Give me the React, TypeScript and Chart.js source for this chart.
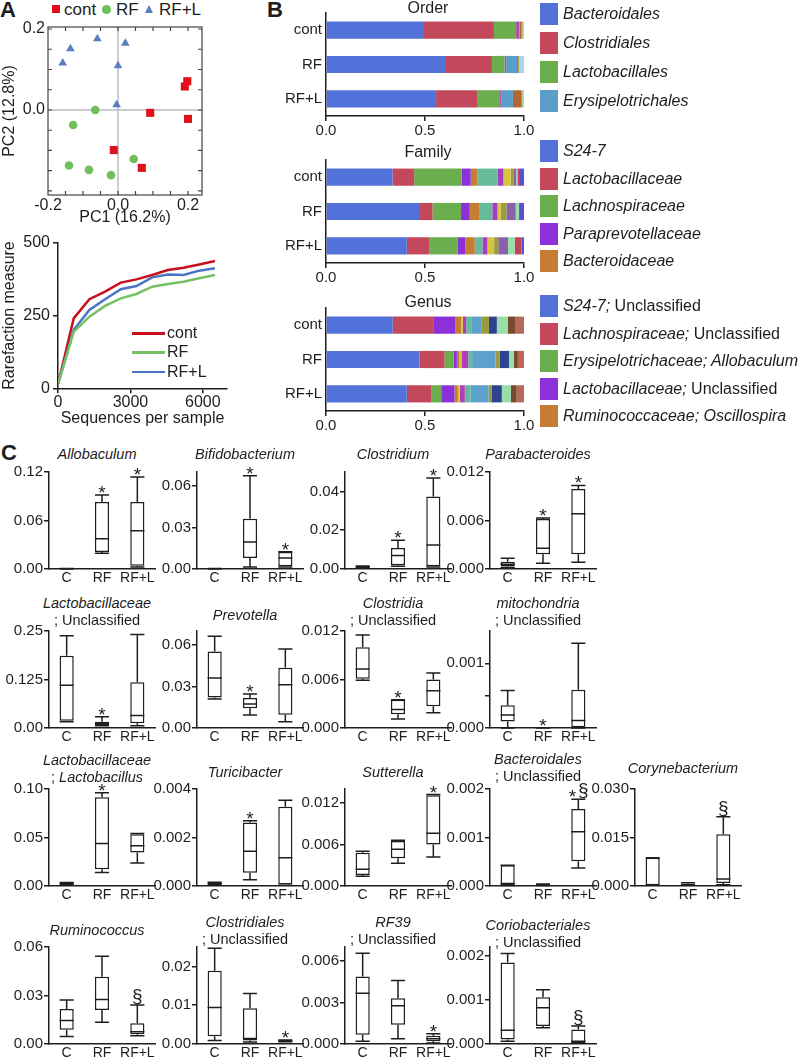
import React, { useEffect, useRef } from 'react';
import { Chart, registerables } from 'chart.js';

Chart.register(...registerables);

const FONT = '"Liberation Sans", Arial, Helvetica, sans-serif';
const INK = '#1e1e1e';
Chart.defaults.font.family = FONT;
Chart.defaults.color = INK;

// ---------------- Panel A: PCoA scatter ----------------
const CONT_PC1 = [0.198, 0.191, 0.2, 0.092, -0.012, 0.068];
const CONT_PC2 = [0.071, 0.058, -0.022, -0.007, -0.099, -0.143];
const RF_PC1 = [-0.065, -0.128, -0.14, -0.083, -0.02, 0.045];
const RF_PC2 = [0.0, -0.037, -0.137, -0.148, -0.161, -0.121];
const RFL_PC1 = [-0.158, -0.136, -0.059, 0.021, 0.0, -0.004];
const RFL_PC2 = [0.116, 0.151, 0.176, 0.165, 0.109, 0.013];
const PC1_TICKS = [-0.2, 0, 0.2];
const PC2_TICKS = [0, 0.2];

// ---------------- Panel A: rarefaction ----------------
const RARE_SEQ = [10, 650, 1300, 1950, 2600, 3250, 3900, 4550, 5200, 5850, 6500];
const RARE_CONT = [17, 240, 306, 332, 363, 374, 389, 406, 414, 425, 437];
const RARE_RF = [17, 194, 246, 283, 309, 324, 349, 358, 366, 378, 389];
const RARE_RFL = [17, 200, 269, 306, 340, 351, 381, 391, 389, 404, 412];
const RARE_X_TICKS = [0, 3000, 6000];
const RARE_Y_TICKS = [0, 250, 500];

// ---------------- Panel B: relative abundance ----------------
const B_GROUPS = ['cont', 'RF', 'RF+L'];
const B_TICKS = [0, 0.5, 1];

const ORDER_TAXA = ['Bacteroidales', 'Clostridiales', 'Lactobacillales', 'Burkholderiales', 'Erysipelotrichales', 'RF39', 'Coriobacteriales', 'Other'];
const ORDER_COLORS = ['#5271D9', '#C3485B', '#6AAE4D', '#B14BAA', '#5C9DC9', '#B0662F', '#9C9B3B', '#A9D6E8'];
const ORDER_CONT = [0.49, 0.358, 0.112, 0.016, 0.003, 0.008, 0.006, 0.007];
const ORDER_RF = [0.606, 0.232, 0.064, 0.008, 0.055, 0.006, 0.004, 0.025];
const ORDER_RFL = [0.556, 0.21, 0.113, 0.006, 0.059, 0.044, 0.004, 0.008];

const FAMILY_TAXA = ['S24-7', 'Lactobacillaceae', 'Lachnospiraceae', 'Paraprevotellaceae', 'Bacteroidaceae', 'Ruminococcaceae', 'Prevotellaceae', 'Erysipelotrichaceae', 'Coriobacteriaceae', 'Rikenellaceae', 'Clostridiaceae', 'Peptococcaceae', 'Other'];
const FAMILY_COLORS = ['#5271D9', '#C3485B', '#6AAE4D', '#8C30D9', '#C47D33', '#67BB9B', '#A53FC2', '#D5C43F', '#9C9B3B', '#8A62AA', '#97DEA8', '#C04456', '#5B4FD3'];
const FAMILY_CONT = [0.336, 0.109, 0.241, 0.045, 0.034, 0.101, 0.03, 0.037, 0.013, 0.015, 0.006, 0.008, 0.025];
const FAMILY_RF = [0.47, 0.068, 0.144, 0.044, 0.047, 0.067, 0.026, 0.016, 0.029, 0.047, 0.017, 0.0, 0.025];
const FAMILY_RFL = [0.408, 0.113, 0.143, 0.039, 0.048, 0.039, 0.025, 0.034, 0.021, 0.049, 0.034, 0.035, 0.012];

const GENUS_TAXA = ['S24-7; Unclassified', 'Lachnospiraceae; Unclassified', 'Erysipelotrichaceae; Allobaculum', 'Lactobacillaceae; Unclassified', 'Ruminococcaceae; Oscillospira', 'g6', 'g7', 'g8', 'g9', 'g10', 'g11', 'g12', 'g13', 'other'];
const GENUS_COLORS = ['#5271D9', '#C3485B', '#6AAE4D', '#8C30D9', '#C47D33', '#D5C43F', '#B23DB8', '#67BB9B', '#5CA0CC', '#9C9B3B', '#2D4390', '#97DEA8', '#7A4A2E', '#B86A5A'];
const GENUS_CONT = [0.337, 0.208, 0.0, 0.109, 0.029, 0.008, 0.017, 0.029, 0.047, 0.039, 0.04, 0.056, 0.039, 0.042];
const GENUS_RF = [0.472, 0.127, 0.045, 0.017, 0.013, 0.01, 0.034, 0.02, 0.118, 0.022, 0.046, 0.025, 0.02, 0.031];
const GENUS_RFL = [0.408, 0.125, 0.049, 0.067, 0.017, 0.01, 0.025, 0.03, 0.09, 0.017, 0.05, 0.045, 0.03, 0.037];

type Seg = [string, boolean];

const ORDER_LEGEND: Seg[][] = [
  [['Bacteroidales', true]], [['Clostridiales', true]], [['Lactobacillales', true]], [['Erysipelotrichales', true]],
];
const ORDER_LEGEND_IDX = [0, 1, 2, 4];
const FAMILY_LEGEND: Seg[][] = [
  [['S24-7', true]], [['Lactobacillaceae', true]], [['Lachnospiraceae', true]], [['Paraprevotellaceae', true]], [['Bacteroidaceae', true]],
];
const FAMILY_LEGEND_IDX = [0, 1, 2, 3, 4];
const GENUS_LEGEND: Seg[][] = [
  [['S24-7;', true], [' Unclassified', false]],
  [['Lachnospiraceae;', true], [' Unclassified', false]],
  [['Erysipelotrichaceae; Allobaculum', true]],
  [['Lactobacillaceae;', true], [' Unclassified', false]],
  [['Ruminococcaceae; Oscillospira', true]],
];
const GENUS_LEGEND_IDX = [0, 1, 2, 3, 4];

// ---------------- Panel C: box plots, [min, Q1, median, Q3, max] ----------------
const GROUPS = ['C', 'RF', 'RF+L'];
const ALLOBACULUM = [[0, 0, 0, 0.0005, 0.0005], [0.0195, 0.021, 0.0375, 0.083, 0.0915], [0.0025, 0.004, 0.0474, 0.083, 0.1138]];
const BIFIDOBACTERIUM = [[0, 0, 0, 0.0003, 0.0003], [0.0015, 0.008, 0.0194, 0.0363, 0.0673], [0.0015, 0.002, 0.008, 0.0123, 0.0125]];
const CLOSTRIDIUM = [[0.0005, 0.0008, 0.001, 0.0015, 0.0016], [0.0014, 0.0019, 0.0069, 0.0108, 0.0148], [0.001, 0.0014, 0.0124, 0.0374, 0.0469]];
const PARABACTEROIDES = [[0.0002, 0.0003, 0.00058, 0.0009, 0.00132], [0.0007, 0.00182, 0.00257, 0.0062, 0.0063], [0.00083, 0.00182, 0.00683, 0.0099, 0.01034]];
const LACTOBACILLACEAE_UNCL = [[0.016, 0.019, 0.11, 0.186, 0.238], [0.006, 0.008, 0.012, 0.016, 0.029], [0.006, 0.012, 0.032, 0.118, 0.241]];
const PREVOTELLA = [[0.021, 0.022, 0.0361, 0.0552, 0.0663], [0.0094, 0.0142, 0.0173, 0.0217, 0.0246], [0.0046, 0.0096, 0.0313, 0.0434, 0.0571]];
const CLOSTRIDIA_UNCL = [[0.0059, 0.0061, 0.0073, 0.01, 0.0115], [0.0011, 0.0017, 0.0023, 0.0035, 0.0035], [0.0019, 0.0027, 0.0046, 0.006, 0.0068]];
const MITOCHONDRIA_UNCL = [[0, 0.0001, 0.0002, 0.00035, 0.00058], [0, 0, 0, 0, 0], [0, 0, 0.000115, 0.00059, 0.00131]];
const LACTOBACILLUS = [[0.001, 0.0015, 0.002, 0.0035, 0.0035], [0.0138, 0.0172, 0.0438, 0.0914, 0.0962], [0.0238, 0.0345, 0.0414, 0.0534, 0.0541]];
const TURICIBACTER = [[0.00005, 0.00008, 0.0001, 0.00015, 0.00015], [0.00026, 0.00055, 0.00143, 0.00262, 0.00269], [0.00003, 0.00006, 0.00117, 0.00327, 0.00354]];
const SUTTERELLA = [[0.0014, 0.0016, 0.0024, 0.0048, 0.005], [0.0033, 0.004, 0.0053, 0.0065, 0.0066], [0.0042, 0.006, 0.0076, 0.0131, 0.0132]];
const BACTEROIDALES_UNCL = [[0.00001, 0.00001, 0.00005, 0.00043, 0.00043], [0.00001, 0.00002, 0.00003, 0.00004, 0.00004], [0.00037, 0.00051, 0.00112, 0.00159, 0.00179]];
const CORYNEBACTERIUM = [[0.0002, 0.0002, 0.0002, 0.0087, 0.0087], [0.0002, 0.0002, 0.0004, 0.0007, 0.001], [0.0004, 0.0009, 0.0022, 0.016, 0.0214]];
const RUMINOCOCCUS = [[0.0047, 0.0088, 0.0145, 0.0217, 0.0272], [0.0135, 0.0211, 0.0276, 0.0416, 0.0543], [0.0051, 0.0061, 0.0076, 0.0129, 0.0242]];
const CLOSTRIDIALES_UNCL = [[0.0009, 0.002, 0.0094, 0.0189, 0.0247], [0.0005, 0.0009, 0.0014, 0.0092, 0.013], [0.0006, 0.0007, 0.0008, 0.001, 0.001]];
const RF39_UNCL = [[0.00019, 0.00067, 0.00367, 0.00487, 0.00655], [0.00038, 0.00139, 0.00276, 0.00331, 0.00458], [0.00007, 0.00019, 0.00038, 0.0006, 0.00074]];
const CORIOBACTERIALES_UNCL = [[0.00006, 0.0001, 0.00031, 0.00185, 0.00205], [0.00037, 0.00041, 0.00082, 0.00106, 0.00123], [0.00002, 0.00002, 0.00006, 0.00033, 0.00041]];

type BoxPanel = {
  stats: number[][]; max: number; ticks: number[]; labels: string[]; marks: string[];
  title: Seg[][]; col: number; row: number; ty: number;
};

const U: Seg = ['; Unclassified', false];
const BOX_PANELS: BoxPanel[] = [
  { stats: ALLOBACULUM, max: 0.12, ticks: [0, 0.06, 0.12], labels: ['0.00', '0.06', '0.12'], marks: ['', '*', '*'], title: [[['Allobaculum', true]]], col: 0, row: 0, ty: 454 },
  { stats: BIFIDOBACTERIUM, max: 0.07, ticks: [0, 0.03, 0.06], labels: ['0.00', '0.03', '0.06'], marks: ['', '*', '*'], title: [[['Bifidobacterium', true]]], col: 1, row: 0, ty: 454 },
  { stats: CLOSTRIDIUM, max: 0.05, ticks: [0, 0.02, 0.04], labels: ['0.00', '0.02', '0.04'], marks: ['', '*', '*'], title: [[['Clostridium', true]]], col: 2, row: 0, ty: 454 },
  { stats: PARABACTEROIDES, max: 0.012, ticks: [0, 0.006, 0.012], labels: ['0.000', '0.006', '0.012'], marks: ['', '*', '*'], title: [[['Parabacteroides', true]]], col: 3, row: 0, ty: 454 },
  { stats: LACTOBACILLACEAE_UNCL, max: 0.25, ticks: [0, 0.125, 0.25], labels: ['0.00', '0.125', '0.25'], marks: ['', '*', ''], title: [[['Lactobacillaceae', true]], [U]], col: 0, row: 1, ty: 603 },
  { stats: PREVOTELLA, max: 0.07, ticks: [0, 0.03, 0.06], labels: ['0.00', '0.03', '0.06'], marks: ['', '*', ''], title: [[['Prevotella', true]]], col: 1, row: 1, ty: 615 },
  { stats: CLOSTRIDIA_UNCL, max: 0.012, ticks: [0, 0.006, 0.012], labels: ['0.000', '0.006', '0.012'], marks: ['', '*', ''], title: [[['Clostridia', true]], [U]], col: 2, row: 1, ty: 603 },
  { stats: MITOCHONDRIA_UNCL, max: 0.0015, ticks: [0, 0.0005, 0.001], labels: ['0.000', '', '0.001'], marks: ['', '*', ''], title: [[['mitochondria', true]], [U]], col: 3, row: 1, ty: 603 },
  { stats: LACTOBACILLUS, max: 0.1, ticks: [0, 0.05, 0.1], labels: ['0.00', '0.05', '0.10'], marks: ['', '*', ''], title: [[['Lactobacillaceae', true]], [['; ', false], ['Lactobacillus', true]]], col: 0, row: 2, ty: 760 },
  { stats: TURICIBACTER, max: 0.004, ticks: [0, 0.002, 0.004], labels: ['0.000', '0.002', '0.004'], marks: ['', '*', ''], title: [[['Turicibacter', true]]], col: 1, row: 2, ty: 772 },
  { stats: SUTTERELLA, max: 0.014, ticks: [0, 0.006, 0.012], labels: ['0.000', '0.006', '0.012'], marks: ['', '', '*'], title: [[['Sutterella', true]]], col: 2, row: 2, ty: 772 },
  { stats: BACTEROIDALES_UNCL, max: 0.002, ticks: [0, 0.001, 0.002], labels: ['0.000', '0.001', '0.002'], marks: ['', '', '*§'], title: [[['Bacteroidales', true]], [U]], col: 3, row: 2, ty: 759 },
  { stats: CORYNEBACTERIUM, max: 0.03, ticks: [0, 0.015, 0.03], labels: ['0.000', '0.015', '0.030'], marks: ['', '', '§'], title: [[['Corynebacterium', true]]], col: 4, row: 2, ty: 768 },
  { stats: RUMINOCOCCUS, max: 0.06, ticks: [0, 0.03, 0.06], labels: ['0.00', '0.03', '0.06'], marks: ['', '', '§'], title: [[['Ruminococcus', true]]], col: 0, row: 3, ty: 930 },
  { stats: CLOSTRIDIALES_UNCL, max: 0.025, ticks: [0, 0.01, 0.02], labels: ['0.00', '0.01', '0.02'], marks: ['', '', '*'], title: [[['Clostridiales', true]], [U]], col: 1, row: 3, ty: 922 },
  { stats: RF39_UNCL, max: 0.007, ticks: [0, 0.003, 0.006], labels: ['0.000', '0.003', '0.006'], marks: ['', '', '*'], title: [[['RF39', true]], [U]], col: 2, row: 3, ty: 922 },
  { stats: CORIOBACTERIALES_UNCL, max: 0.0022, ticks: [0, 0.001, 0.002], labels: ['0.000', '0.001', '0.002'], marks: ['', '', '§'], title: [[['Coriobacteriales', true]], [U]], col: 3, row: 3, ty: 925 },
];

// ---------------- layout ----------------
const COL_X = [49, 197, 345, 490, 635];
const ROW_TOP = [472, 631, 789, 947];
const BOX_YW = 46;
const BOX_PT = 10;
const BOX_PW = 106;
const BOX_PH = 97;
const BOX_XH = 24;
const BOX_PR = 6;

function ChartBox({ left, top, width, height, build }: { left: number; top: number; width: number; height: number; build: () => any }) {
  const ref = useRef<HTMLCanvasElement>(null);
  useEffect(() => {
    if (!ref.current) return;
    const chart = new Chart(ref.current, build());
    return () => chart.destroy();
  }, []);
  return <canvas ref={ref} width={width} height={height} style={{ position: 'absolute', left, top, width, height }} />;
}

function Txt({ x, y, size = 14.5, italic = false, bold = false, align = 'center', children }: any) {
  const tx = align === 'center' ? '-50%' : align === 'right' ? '-100%' : '0';
  return (
    <div style={{ position: 'absolute', left: x, top: y, transform: `translate(${tx},-50%)`, fontSize: size, fontStyle: italic ? 'italic' : 'normal', fontWeight: bold ? 700 : 400, lineHeight: 1, whiteSpace: 'nowrap' }}>
      {children}
    </div>
  );
}

function Segs({ segs }: { segs: Seg[] }) {
  return <>{segs.map((s, i) => <span key={i} style={{ fontStyle: s[1] ? 'italic' : 'normal' }}>{s[0]}</span>)}</>;
}

function fixedTicks(vals: number[]) {
  return (s: any) => { s.ticks = vals.map((v) => ({ value: v })); };
}

function boxConfig(p: BoxPanel) {
  const whisker = {
    id: 'whisker',
    afterDatasetsDraw(chart: any) {
      const { ctx } = chart;
      const y = chart.scales.y;
      const meta = chart.getDatasetMeta(0);
      ctx.save();
      ctx.strokeStyle = INK;
      ctx.fillStyle = INK;
      ctx.lineWidth = 1.5;
      p.stats.forEach((s, i) => {
        const el: any = meta.data[i];
        const cx = el.x;
        const hw = el.width / 2;
        const [mn, q1, md, q3, mx] = s.map((v) => y.getPixelForValue(v));
        ctx.beginPath();
        ctx.moveTo(cx, q3); ctx.lineTo(cx, mx);
        ctx.moveTo(cx, q1); ctx.lineTo(cx, mn);
        ctx.moveTo(cx - hw, mx); ctx.lineTo(cx + hw, mx);
        ctx.moveTo(cx - hw, mn); ctx.lineTo(cx + hw, mn);
        ctx.moveTo(cx - hw, md); ctx.lineTo(cx + hw, md);
        ctx.stroke();
        const m = p.marks[i];
        if (m) {
          ctx.font = `19px ${FONT}`;
          ctx.textAlign = 'center';
          ctx.textBaseline = 'alphabetic';
          if (m === '*') ctx.fillText('*', cx, mx + 4);
          else if (m === '§') ctx.fillText('§', cx, mx - 3);
          else { ctx.fillText('*', cx - 6, mx + 4); ctx.fillText('§', cx + 5, mx - 3); }
        }
      });
      ctx.restore();
    },
  };
  return {
    type: 'bar',
    data: {
      labels: GROUPS,
      datasets: [{
        data: p.stats.map((s) => [s[1], s[3]]),
        backgroundColor: '#ffffff', borderColor: INK, borderWidth: 1.5, borderSkipped: false,
        barPercentage: 0.4, categoryPercentage: 1,
      }],
    },
    options: {
      responsive: false, animation: false, events: [],
      layout: { autoPadding: false, padding: { top: BOX_PT, right: BOX_PR, left: 0, bottom: 0 } },
      plugins: { legend: { display: false }, tooltip: { enabled: false } },
      scales: {
        x: {
          grid: { display: false, drawTicks: false },
          border: { display: true, color: INK, width: 1.5 },
          ticks: { font: { size: 14 }, color: INK, padding: 1, maxRotation: 0, autoSkip: false },
          afterFit: (s: any) => { s.height = BOX_XH; },
        },
        y: {
          min: 0, max: p.max,
          grid: { drawOnChartArea: false, drawTicks: true, tickLength: 5, color: INK, lineWidth: 1.5 },
          border: { display: true, color: INK, width: 1.5 },
          ticks: { font: { size: 15 }, color: INK, padding: 1, callback: (_v: any, i: number) => p.labels[i] },
          afterBuildTicks: fixedTicks(p.ticks),
          afterFit: (s: any) => { s.width = BOX_YW; },
        },
      },
    },
    plugins: [whisker],
  };
}

function stackConfig(taxa: string[], colors: string[], rows: number[][]) {
  return {
    type: 'bar',
    data: {
      labels: B_GROUPS,
      datasets: taxa.map((t, i) => ({
        label: t, data: rows.map((r) => r[i]), backgroundColor: colors[i], borderWidth: 0,
        barPercentage: 0.5, categoryPercentage: 1,
      })),
    },
    options: {
      indexAxis: 'y', responsive: false, animation: false, events: [],
      layout: { autoPadding: false, padding: { top: 6, right: 18, left: 0, bottom: 0 } },
      plugins: { legend: { display: false }, tooltip: { enabled: false } },
      scales: {
        x: {
          stacked: true, min: 0, max: 1,
          grid: { drawOnChartArea: false, tickLength: 5, color: INK, lineWidth: 1.5 },
          border: { display: true, color: INK, width: 1.5 },
          ticks: { font: { size: 15 }, color: INK, padding: 1, callback: (v: any) => Number(v).toFixed(1) },
          afterBuildTicks: fixedTicks(B_TICKS),
          afterFit: (s: any) => { s.height = 24; },
        },
        y: {
          stacked: true,
          grid: { display: false, drawTicks: false },
          border: { display: true, color: INK, width: 1.5 },
          ticks: { font: { size: 15 }, color: INK, padding: 4 },
          afterFit: (s: any) => { s.width = 56; },
        },
      },
    },
  };
}

function scatterConfig() {
  const frame = {
    id: 'frame',
    beforeDatasetsDraw(chart: any) {
      const { ctx, chartArea: a } = chart;
      const x = chart.scales.x;
      const y = chart.scales.y;
      ctx.save();
      ctx.strokeStyle = '#bdbdbd';
      ctx.lineWidth = 1.5;
      const x0 = x.getPixelForValue(0);
      const y0 = y.getPixelForValue(0);
      ctx.beginPath();
      ctx.moveTo(x0, a.top); ctx.lineTo(x0, a.bottom);
      ctx.moveTo(a.left, y0); ctx.lineTo(a.right, y0);
      ctx.stroke();
      ctx.strokeStyle = '#444';
      ctx.lineWidth = 1.2;
      ctx.strokeRect(a.left, a.top, a.width, a.height);
      ctx.beginPath();
      for (let k = -4; k <= 5; k++) {
        const px = x.getPixelForValue(k * 0.05);
        if (px > a.left + 1 && px < a.right - 1) {
          ctx.moveTo(px, a.top); ctx.lineTo(px, a.top + 4);
          ctx.moveTo(px, a.bottom); ctx.lineTo(px, a.bottom - 4);
        }
        const py = y.getPixelForValue(k * 0.05);
        if (py > a.top + 1 && py < a.bottom - 1) {
          ctx.moveTo(a.left, py); ctx.lineTo(a.left + 4, py);
          ctx.moveTo(a.right, py); ctx.lineTo(a.right - 4, py);
        }
      }
      ctx.stroke();
      ctx.restore();
    },
  };
  const pts = (xs: number[], ys: number[]) => xs.map((v, i) => ({ x: v, y: ys[i] }));
  return {
    type: 'scatter',
    data: {
      datasets: [
        { label: 'cont', data: pts(CONT_PC1, CONT_PC2), pointStyle: 'rect', pointRadius: 5.7, backgroundColor: '#e0101a', borderWidth: 0 },
        { label: 'RF', data: pts(RF_PC1, RF_PC2), pointStyle: 'circle', pointRadius: 4.3, backgroundColor: '#6fbf5c', borderWidth: 0 },
        { label: 'RF+L', data: pts(RFL_PC1, RFL_PC2), pointStyle: 'triangle', pointRadius: 5, backgroundColor: '#5a7ec0', borderWidth: 0 },
      ],
    },
    options: {
      responsive: false, animation: false, events: [],
      layout: { autoPadding: false, padding: { top: 27, right: 13, left: 0, bottom: 0 } },
      plugins: { legend: { display: false }, tooltip: { enabled: false } },
      scales: {
        x: {
          type: 'linear', min: -0.2, max: 0.24,
          grid: { display: false, drawTicks: false }, border: { display: false },
          ticks: { font: { size: 16 }, color: INK, padding: 1, callback: (v: any) => Number(v).toFixed(1) },
          afterBuildTicks: fixedTicks(PC1_TICKS),
          title: { display: true, text: 'PC1 (16.2%)', font: { size: 16 }, color: INK, padding: { top: 0, bottom: 1 } },
          afterFit: (s: any) => { s.height = 33; },
        },
        y: {
          type: 'linear', min: -0.21, max: 0.205,
          grid: { display: false, drawTicks: false }, border: { display: false },
          ticks: { font: { size: 16 }, color: INK, padding: 3, callback: (v: any) => Number(v).toFixed(1) },
          afterBuildTicks: fixedTicks(PC2_TICKS),
          title: { display: true, text: 'PC2 (12.8%)', font: { size: 16 }, color: INK, padding: 0 },
          afterFit: (s: any) => { s.width = 48; },
        },
      },
    },
    plugins: [frame],
  };
}

function rareConfig() {
  const line = (ys: number[], color: string, label: string) => ({
    label, data: RARE_SEQ.map((x, i) => ({ x, y: ys[i] })), borderColor: color, borderWidth: 2.5,
    pointRadius: 0, tension: 0, fill: false,
  });
  return {
    type: 'line',
    data: { datasets: [line(RARE_RF, '#74c065', 'RF'), line(RARE_RFL, '#4a74c6', 'RF+L'), line(RARE_CONT, '#c8101c', 'cont')] },
    options: {
      responsive: false, animation: false, events: [],
      layout: { autoPadding: false, padding: { top: 12.7, right: 8, left: 0, bottom: 0 } },
      plugins: { legend: { display: false }, tooltip: { enabled: false } },
      scales: {
        x: {
          type: 'linear', min: 0, max: 7000,
          grid: { drawOnChartArea: false, tickLength: 5, color: INK, lineWidth: 1.5 },
          border: { display: true, color: INK, width: 1.5 },
          ticks: { font: { size: 16 }, color: INK, padding: 0, callback: (v: any) => String(v) },
          afterBuildTicks: fixedTicks(RARE_X_TICKS),
          title: { display: true, text: 'Sequences per sample', font: { size: 16 }, color: INK, padding: { top: 0, bottom: 0 } },
          afterFit: (s: any) => { s.height = 39.7; },
        },
        y: {
          type: 'linear', min: 0, max: 500,
          grid: { drawOnChartArea: false, tickLength: 5, color: INK, lineWidth: 1.5 },
          border: { display: true, color: INK, width: 1.5 },
          ticks: { font: { size: 16 }, color: INK, padding: 3, callback: (v: any) => String(v) },
          afterBuildTicks: fixedTicks(RARE_Y_TICKS),
          title: { display: true, text: 'Rarefaction measure', font: { size: 16 }, color: INK, padding: 0 },
          afterFit: (s: any) => { s.width = 58; },
        },
      },
    },
  };
}

function SwatchLegend({ top, step, items, idx, colors }: { top: number; step: number; items: Seg[][]; idx: number[]; colors: string[] }) {
  return (
    <>
      {items.map((segs, k) => (
        <React.Fragment key={k}>
          <div style={{ position: 'absolute', left: 540, top: top + k * step, width: 18, height: 22, background: colors[idx[k]] }} />
          <Txt x={563} y={top + k * step + 11} size={16} align="left"><Segs segs={segs} /></Txt>
        </React.Fragment>
      ))}
    </>
  );
}

export default function App() {
  return (
    <div style={{ position: 'absolute', left: 0, top: 0, width: 802, height: 1057, overflow: 'hidden', background: '#fff', fontFamily: FONT, color: INK }}>
      {/* Panel A */}
      <Txt x={0} y={10} size={22} bold align="left">A</Txt>
      <div style={{ position: 'absolute', left: 52, top: 5, width: 8, height: 8, background: '#e0101a' }} />
      <Txt x={64} y={9} size={17} align="left">cont</Txt>
      <div style={{ position: 'absolute', left: 102, top: 5, width: 8.5, height: 8.5, borderRadius: '50%', background: '#6fbf5c' }} />
      <Txt x={116} y={9} size={17} align="left">RF</Txt>
      <div style={{ position: 'absolute', left: 145, top: 5, width: 0, height: 0, borderLeft: '4.5px solid transparent', borderRight: '4.5px solid transparent', borderBottom: '8px solid #5a7ec0' }} />
      <Txt x={159} y={9} size={17} align="left">RF+L</Txt>
      <ChartBox left={0} top={0} width={215} height={228} build={scatterConfig} />
      <ChartBox left={0} top={230} width={235} height={198} build={rareConfig} />
      <div style={{ position: 'absolute', left: 132, top: 332, width: 33, height: 2.5, background: '#c8101c' }} />
      <Txt x={167} y={333} size={16} align="left">cont</Txt>
      <div style={{ position: 'absolute', left: 132, top: 351, width: 33, height: 2.5, background: '#74c065' }} />
      <Txt x={167} y={352} size={16} align="left">RF</Txt>
      <div style={{ position: 'absolute', left: 132, top: 370.5, width: 33, height: 2.5, background: '#4a74c6' }} />
      <Txt x={167} y={372} size={16} align="left">RF+L</Txt>

      {/* Panel B */}
      <Txt x={267} y={10} size={22} bold align="left">B</Txt>
      <ChartBox left={270} top={0} width={272} height={140} build={() => stackConfig(ORDER_TAXA, ORDER_COLORS, [ORDER_CONT, ORDER_RF, ORDER_RFL])} />
      <ChartBox left={270} top={147} width={272} height={140} build={() => stackConfig(FAMILY_TAXA, FAMILY_COLORS, [FAMILY_CONT, FAMILY_RF, FAMILY_RFL])} />
      <ChartBox left={270} top={295} width={272} height={140} build={() => stackConfig(GENUS_TAXA, GENUS_COLORS, [GENUS_CONT, GENUS_RF, GENUS_RFL])} />
      <Txt x={428} y={8} size={16}>Order</Txt>
      <Txt x={428} y={152} size={16}>Family</Txt>
      <Txt x={428} y={302} size={16}>Genus</Txt>
      <SwatchLegend top={3.3} step={29} items={ORDER_LEGEND} idx={ORDER_LEGEND_IDX} colors={ORDER_COLORS} />
      <SwatchLegend top={140} step={27.5} items={FAMILY_LEGEND} idx={FAMILY_LEGEND_IDX} colors={FAMILY_COLORS} />
      <SwatchLegend top={295} step={27.6} items={GENUS_LEGEND} idx={GENUS_LEGEND_IDX} colors={GENUS_COLORS} />

      {/* Panel C */}
      <Txt x={1} y={453} size={22} bold align="left">C</Txt>
      {BOX_PANELS.map((p, k) => {
        const ax = COL_X[p.col];
        const top = ROW_TOP[p.row];
        return (
          <React.Fragment key={k}>
            <ChartBox left={ax - BOX_YW} top={top - BOX_PT} width={BOX_YW + BOX_PW + BOX_PR} height={BOX_PT + BOX_PH + BOX_XH} build={() => boxConfig(p)} />
            {p.title.map((line, li) => (
              <Txt key={li} x={ax + 48} y={p.ty + li * 17} size={14.5}><Segs segs={line} /></Txt>
            ))}
          </React.Fragment>
        );
      })}
    </div>
  );
}
